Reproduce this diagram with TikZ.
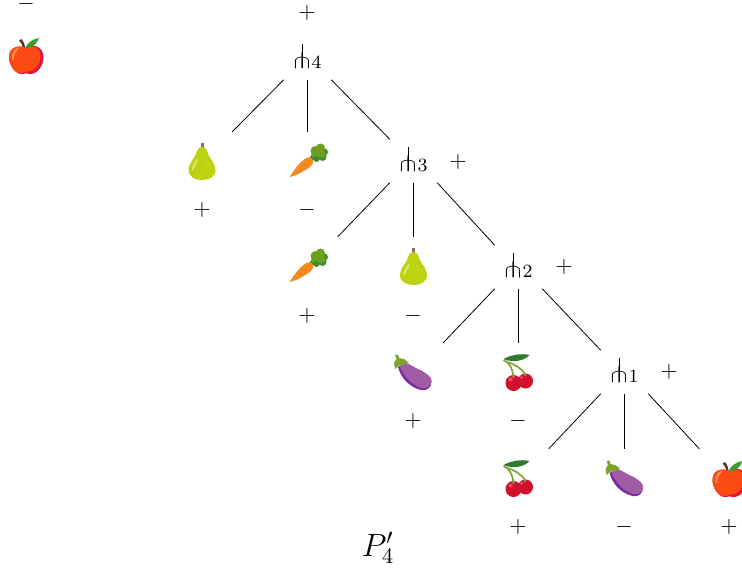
\documentclass[tikz,border=0pt]{standalone}
\usepackage{amssymb}
\newcommand{\mysc}[1]{\scalebox{1.67}{#1}}
\newsavebox{\forkbox}
\sbox{\forkbox}{\scalebox{1.9}[1.6]{$\pitchfork$}}
\newcommand{\myfork}[1]{\raisebox{3pt}{\rlap{\hbox to \wd\forkbox{\hss\rule{0.7pt}{18.6pt}\hss}}\usebox{\forkbox}\hspace{0.8pt}\scalebox{1.75}{\footnotesize #1}}}
\definecolor{apRed}{HTML}{E3143C}
\definecolor{apOr}{HTML}{FB4A12}
\definecolor{apHi}{HTML}{FF8A52}
\definecolor{stemBr}{HTML}{5A3526}
\definecolor{lfGr}{HTML}{3E9B2E}
\definecolor{prGr}{HTML}{BCD30F}
\definecolor{prHi}{HTML}{DDE86A}
\definecolor{crOr}{HTML}{F58A1E}
\definecolor{crDk}{HTML}{E0701A}
\definecolor{crGr}{HTML}{6E9E1E}
\definecolor{crGd}{HTML}{3E8E2C}
\definecolor{egPu}{HTML}{A05CA6}
\definecolor{egDk}{HTML}{7C2C9C}
\definecolor{egCap}{HTML}{7FA42B}
\definecolor{chRd}{HTML}{D0102C}
\definecolor{chHi}{HTML}{EE5060}
\definecolor{chLf}{HTML}{2F7A2C}
\definecolor{chSt}{HTML}{7FA83C}
\tikzset{
  x=0.75pt,y=-0.75pt,
  forknode/.style={inner sep=0pt,minimum width=35.25pt,minimum height=32.25pt},
  leafnode/.style={inner sep=0pt,minimum width=45pt,minimum height=45pt},
  signnode/.style={inner sep=0pt},
  edgeline/.style={line width=0.6pt,black},
  apple/.pic={
    \fill[stemBr] (-3.5,-7) .. controls (-3.5,-11) and (-4.5,-14) .. (-7,-15.5) -- (-4.5,-17) .. controls (-2,-14) and (-1,-11) .. (-1,-7) -- cycle;
    \fill[apRed] (0,-8) .. controls (6,-12) and (17,-11) .. (17.5,1) .. controls (17.5,11) and (10,19) .. (3,18) .. controls (1,17) and (-1,17) .. (-3,18) .. controls (-11,19) and (-17,9) .. (-17,1) .. controls (-17,-10) and (-6,-11) .. (0,-8) -- cycle;
    \fill[apOr] (0,-8) .. controls (5,-11) and (14,-10) .. (14.5,0) .. controls (14.5,9) and (8,16) .. (1,15.5) .. controls (-1,16) and (-2,16.5) .. (-4,17) .. controls (-11,18) and (-17,9) .. (-17,1) .. controls (-17,-10) and (-6,-11) .. (0,-8) -- cycle;
    \fill[apHi] (-14,3) .. controls (-15,-4) and (-11,-8) .. (-7,-8) .. controls (-10,-5) and (-12,-1) .. (-13,5) -- cycle;
    \fill[lfGr] (-1,-8) .. controls (2,-14) and (7,-17) .. (13,-18) .. controls (11,-12) and (6,-7) .. (-1,-8) -- cycle;
  },
  pear/.pic={
    \fill[stemBr!70!white] (-1.5,-19) rectangle (1.5,-12);
    \fill[prGr] (0,-15) .. controls (4,-15) and (5,-11) .. (6.5,-7) .. controls (9,-2) and (13.5,2) .. (13.5,8) .. controls (13.5,15) and (7,18) .. (0,18) .. controls (-7,18) and (-13.5,15) .. (-13.5,8) .. controls (-13.5,2) and (-9,-2) .. (-6.5,-7) .. controls (-5,-11) and (-4,-15) .. (0,-15) -- cycle;
    \fill[prHi] (-5,-3) .. controls (-8,1) and (-11,5) .. (-10,9) .. controls (-8,6) and (-5,2) .. (-4,-3) -- cycle;
    \foreach \p in {(3,-1),(5,0),(4,3),(7,3),(8,6)} \fill[prHi] \p circle (0.6);
  },
  carrot/.pic={
    \fill[crGd] (2,-5) -- (8,-10) -- (11,-6) -- (5,-1) -- cycle;
    \fill[crOr] (-18,15) .. controls (-13,7) and (-8,1) .. (-3,-3) .. controls (0,-5) and (4,-5.5) .. (5.5,-2) .. controls (6.5,1) and (4,4) .. (1,6) .. controls (-5,10) and (-12,14) .. (-18,15) -- cycle;
    \draw[crDk,line width=0.5pt] (-8,6) -- (-6,8) (-3,2) -- (-1,4) (-11,11) -- (-9,11.5);
    \fill[crGd] (9,-3) circle (3) (15,-5) circle (4) (17,-10) circle (3.5);
    \fill[crGr] (8,-11) circle (5) (13,-14) circle (4.5) (14,-8) circle (4) (6,-7) circle (2.5) (11,-10) circle (4);
  },
  eggplant/.pic={
    \fill[egDk] (-15,-6) .. controls (-12,5) and (-4,14) .. (8,17) .. controls (14,18.5) and (19,14) .. (18.5,8) .. controls (18,3) and (13,1) .. (9,-2) .. controls (3,-4) and (-3,-9) .. (-8,-10) -- cycle;
    \fill[egPu] (-13,-6) .. controls (-9,3) and (-2,11) .. (8,15) .. controls (14,16.5) and (18,13) .. (18.5,8) .. controls (18,3) and (13,1) .. (9,-2) .. controls (3,-4) and (-3,-9) .. (-8,-10) -- cycle;
    \fill[egCap] (-18,-18) -- (-15,-18.5) -- (-14,-15) -- (-9,-14) -- (-4,-10) -- (-8,-9.5) -- (-10,-7) -- (-13,-8) -- (-18,-4) -- (-19,-10) -- (-16.5,-14) -- cycle;
  },
  cherry/.pic={
    \draw[chSt,line width=1.3pt] (-15,-13) .. controls (-10,-11) and (-6,-6) .. (-5,5);
    \draw[chSt,line width=1.3pt] (-11.5,-11) .. controls (-4,-9) and (3,-5) .. (7,2);
    \fill[chLf] (-15,-14) .. controls (-8,-18) and (3,-20) .. (11,-18) .. controls (6,-12) and (-6,-10) .. (-15,-14) -- cycle;
    \fill[chRd] (7,8) circle (7.5);
    \fill[chHi] (3,4.5) circle (1.6);
    \fill[chRd] (-5,10) circle (8);
    \fill[chHi] (-8,6.5) circle (2);
    \draw[chSt,line width=1.3pt] (-5.5,0) -- (-5,5) (6,0.5) -- (7,3);
  }
}
\begin{document}
\begin{tikzpicture}
\useasboundingbox (0,0) rectangle (742,568);
\clip (0,0) rectangle (742,568);
% forks
\node[forknode] (f4) at (307.5,58) {\myfork{4}};
\node[forknode] (f3) at (413.5,161) {\myfork{3}};
\node[forknode] (f2) at (518.5,267) {\myfork{2}};
\node[forknode] (f1) at (624.5,372) {\myfork{1}};
% leaves
\node[leafnode] (a0) at (26,56) {};
\node[leafnode] (l41) at (202,162) {};
\node[leafnode] (l42) at (307.5,162) {};
\node[leafnode] (l31) at (307.5,267) {};
\node[leafnode] (l32) at (413.5,267) {};
\node[leafnode] (l21) at (413,373) {};
\node[leafnode] (l22) at (518.5,373) {};
\node[leafnode] (l11) at (518.5,479) {};
\node[leafnode] (l12) at (624.5,479) {};
\node[leafnode] (l13) at (729.5,479) {};
% icons
\pic at (a0) {apple};
\pic at (l41) {pear};
\pic at (l42) {carrot};
\pic at (l31) {carrot};
\pic at (l32) {pear};
\pic at (l21) {eggplant};
\pic at (l22) {cherry};
\pic at (l11) {cherry};
\pic at (l12) {eggplant};
\pic at (l13) {apple};
% connectors
\draw[edgeline] (f4.south west) -- (l41.north east);
\draw[edgeline] (f4.south) -- (l42.north);
\draw[edgeline] (f4.south east) -- (f3.north west);
\draw[edgeline] (f3.south west) -- (l31.north east);
\draw[edgeline] (f3.south) -- (l32.north);
\draw[edgeline] (f3.south east) -- (f2.north west);
\draw[edgeline] (f2.south west) -- (l21.north east);
\draw[edgeline] (f2.south) -- (l22.north);
\draw[edgeline] (f2.south east) -- (f1.north west);
\draw[edgeline] (f1.south west) -- (l11.north east);
\draw[edgeline] (f1.south) -- (l12.north);
\draw[edgeline] (f1.south east) -- (l13.north west);
% signs
\node[signnode] (s0) at (26,6.7) {\mysc{\raisebox{-2.5pt}{\smash{$-$}}}};
\node[signnode] (s4) at (307,13) {\mysc{$+$}};
\node[signnode] (s3) at (458,162) {\mysc{$+$}};
\node[signnode] (s2) at (564,267) {\mysc{$+$}};
\node[signnode] (s1) at (669,372) {\mysc{$+$}};
\node[signnode] (t41) at (202,210) {\mysc{$+$}};
\node[signnode] (t42) at (307,210) {\mysc{$-$}};
\node[signnode] (t31) at (307,316) {\mysc{$+$}};
\node[signnode] (t32) at (413,316) {\mysc{$-$}};
\node[signnode] (t21) at (413,421) {\mysc{$+$}};
\node[signnode] (t22) at (518,421) {\mysc{$-$}};
\node[signnode] (t11) at (518,527) {\mysc{$+$}};
\node[signnode] (t12) at (624,527) {\mysc{$-$}};
\node[signnode] (t13) at (729,527) {\mysc{$+$}};
\node[signnode] (title) at (378,548) {\mysc{\Large $P'_{4}$}};
\end{tikzpicture}
\end{document}
